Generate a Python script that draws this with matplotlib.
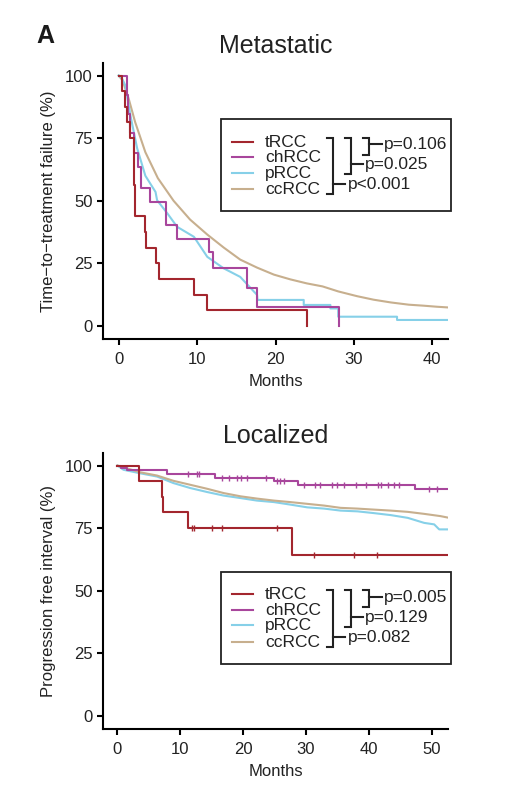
import matplotlib
matplotlib.use("Agg")
import matplotlib.pyplot as plt
from matplotlib.lines import Line2D
from matplotlib.patches import Rectangle
import numpy as np

plt.rcParams['font.family'] = ['Liberation Sans', 'DejaVu Sans']

W, H = 508, 794

# ---------------- data ----------------
groups = ["tRCC", "chRCC", "pRCC", "ccRCC"]
colors = {"tRCC": "#A3262E", "chRCC": "#A8469C", "pRCC": "#86D0E8", "ccRCC": "#C7AF8E"}

# Metastatic: time-to-treatment failure (months, %)
met_tRCC_t = [0, 0.45, 0.8, 1.1, 1.5, 1.9, 1.95, 2.0, 2.05, 2.1, 3.3, 3.5, 4.8, 5.1, 9.6, 11.3, 24.0]
met_tRCC_s = [100, 93.75, 87.5, 81.25, 75, 68.75, 62.5, 56.25, 50, 43.75, 37.5, 31.25, 25, 18.75, 12.5, 6.25, 0]

met_chRCC_t = [0, 1.07, 1.15, 1.5, 2.0, 2.5, 2.8, 4.04, 6.08, 7.45, 11.5, 12.0, 16.4, 17.7, 28.1]
met_chRCC_s = [100, 92.3, 84.6, 76.9, 69.2, 63.5, 55, 49.5, 40.2, 34.9, 29.6, 23, 15, 7.7, 0]

met_pRCC_t = [0, 0.4, 0.85, 1.5, 2.35, 3.4, 4.7, 4.9, 6.2, 7.45, 9.6, 11.3, 13.4, 15.5, 17.65,
              17.7, 23.6, 23.6, 27.0, 27.0, 28.0, 28.0, 35.5, 35.5, 42.0]
met_pRCC_s = [100, 99, 96, 84, 71, 60, 53.5, 50.2, 45, 39.6, 35.6, 27.6, 23, 19.6, 12.4,
              10.4, 10.4, 8.4, 8.4, 7.0, 7.0, 3.7, 3.7, 2.4, 2.4]

met_ccRCC_t = [0, 0.5, 1.28, 2.1, 3.4, 5.0, 7.0, 9.1, 11.3, 13.4, 15.5, 17.65, 19.8, 21.9, 24.0,
               26.0, 28.0, 30.4, 32.5, 34.7, 37.0, 38.9, 40.5, 42.0]
met_ccRCC_s = [100, 98, 90.7, 81.4, 69.4, 59, 50, 42.5, 36.5, 31.3, 26.5, 23.3, 20.5, 18.6, 17,
               15.8, 13.8, 11.9, 10.5, 9.4, 8.5, 8.1, 7.7, 7.4]

# Localized: progression free interval (months, %)
loc_tRCC_t = [0, 3.5, 7.1, 7.3, 11.2, 27.7, 52.6]
loc_tRCC_s = [100, 93.75, 87.5, 81.25, 75, 64.3, 64.3]
loc_tRCC_cens = [11.9, 12.2, 15.1, 16.7, 25.4, 31.2, 37.6, 41.3]

loc_chRCC_t = [0, 0.6, 1.5, 7.9, 15.6, 24.9, 28.8, 47.4, 52.6]
loc_chRCC_s = [100, 99.2, 98.4, 96.6, 95.2, 93.9, 92.4, 90.7, 90.7]
loc_chRCC_cens = [11.3, 12.7, 12.9, 16.7, 17.7, 19.0, 19.6, 20.6, 23.6, 25.4, 25.9, 26.5,
                  29.7, 31.5, 32.3, 34.2, 35.0, 36.0, 37.9, 39.5, 41.4, 41.9, 43.0, 44.0, 44.8,
                  49.6, 50.9]

loc_pRCC_t = [0, 0.96, 3.6, 6.3, 8.9, 11.6, 14.3, 16.9, 19.6, 22.2, 24.9, 27.5, 30.2, 32.9,
              35.5, 38.2, 40.8, 43.5, 46.2, 48.8, 50.4, 51.2, 52.6]
loc_pRCC_s = [100, 98.3, 96.9, 95.6, 93, 91, 89.4, 88, 87, 86, 85.4, 84.4, 83.3, 82.8,
              82, 81.7, 81, 80.2, 79.1, 77.1, 76.5, 74.5, 74.5]

loc_ccRCC_t = [0, 3.6, 6.3, 8.9, 11.6, 14.3, 16.9, 19.6, 22.2, 24.9, 27.5, 30.2, 32.9, 35.5,
               38.2, 40.8, 43.5, 46.2, 48.8, 51.4, 52.8]
loc_ccRCC_s = [100, 97.3, 96, 93.9, 92.3, 90.7, 89, 87.7, 86.8, 86, 85.4, 84.7, 84, 83.1,
               82.8, 82.4, 82, 81.5, 80.7, 79.8, 79.1]

met_pvals = ["p=0.106", "p=0.025", "p<0.001"]
loc_pvals = ["p=0.005", "p=0.129", "p=0.082"]

# ---------------- figure ----------------
fig = plt.figure(figsize=(W / 100, H / 100), dpi=100)


def fx(x):
    return x / W


def fy(y):
    return 1 - y / H


def setup(ax, xticks, xlim, ylabel, title):
    for s in ["top", "right"]:
        ax.spines[s].set_visible(False)
    for s in ["left", "bottom"]:
        ax.spines[s].set_linewidth(1.5)
        ax.spines[s].set_color("black")
    ax.set_xlim(*xlim)
    ax.set_ylim(-5, 105)
    ax.set_xticks(xticks)
    ax.set_yticks([0, 25, 50, 75, 100])
    ax.tick_params(axis="both", length=4.5, width=1.5, labelsize=12, colors="black",
                   labelcolor="#222222", pad=3)
    ax.tick_params(axis="x", pad=5)
    ax.set_xlabel("Months", fontsize=12, color="#222222", labelpad=5)
    ax.set_ylabel(ylabel, fontsize=12, color="#222222", labelpad=6)
    ax.set_title(title, fontsize=18, color="#222222", pad=7)


ax1 = fig.add_axes([fx(103), fy(338.5), fx(448 - 103), (338.5 - 63) / H])
ax2 = fig.add_axes([fx(103), fy(728.5), fx(448 - 103), (728.5 - 453) / H])

setup(ax1, [0, 10, 20, 30, 40], (-2, 42), "Time\u2212to\u2212treatment failure (%)", "Metastatic")
setup(ax2, [0, 10, 20, 30, 40, 50], (-2.3, 52.6), "Progression free interval (%)", "Localized")

lw = 1.5
# Metastatic curves
ax1.plot(met_ccRCC_t, met_ccRCC_s, color=colors["ccRCC"], lw=lw)
ax1.plot(met_pRCC_t, met_pRCC_s, color=colors["pRCC"], lw=lw)
ax1.plot(met_chRCC_t, met_chRCC_s, color=colors["chRCC"], lw=lw, drawstyle="steps-post")
ax1.plot(met_tRCC_t, met_tRCC_s, color=colors["tRCC"], lw=lw, drawstyle="steps-post")

# Localized curves
ax2.plot(loc_pRCC_t, loc_pRCC_s, color=colors["pRCC"], lw=lw)
ax2.plot(loc_ccRCC_t, loc_ccRCC_s, color=colors["ccRCC"], lw=lw)
ax2.plot(loc_chRCC_t, loc_chRCC_s, color=colors["chRCC"], lw=lw, drawstyle="steps-post")
ax2.plot(loc_tRCC_t, loc_tRCC_s, color=colors["tRCC"], lw=lw, drawstyle="steps-post")


def step_at(ts, ss, t):
    idx = np.searchsorted(ts, t, side="right") - 1
    return np.asarray(ss)[idx]


ax2.plot(loc_chRCC_cens, step_at(loc_chRCC_t, loc_chRCC_s, loc_chRCC_cens), ls="none",
         marker="|", ms=4, mew=1.0, color=colors["chRCC"])
ax2.plot(loc_tRCC_cens, step_at(loc_tRCC_t, loc_tRCC_s, loc_tRCC_cens), ls="none",
         marker="|", ms=4, mew=1.0, color=colors["tRCC"])


def legend_block(y0, pvals):
    # box
    fig.patches.append(Rectangle((fx(221), fy(y0 + 92)), fx(451 - 221), 92 / H,
                                 transform=fig.transFigure, fill=False, ec="#222222",
                                 lw=1.3, zorder=5))
    rows = [y0 + 22.4, y0 + 38, y0 + 53.4, y0 + 70]
    for g, ry in zip(groups, rows):
        fig.add_artist(Line2D([fx(231.7), fx(253.3)], [fy(ry), fy(ry)], color=colors[g], lw=1.5))
        fig.text(fx(265), fy(ry + 0.5), g, fontsize=12.5, color="#222222", va="center", ha="left")
    top = y0 + 18.4

    def bracket(xv, xh, bottom, stub_y, stub_end, label, tx):
        fig.add_artist(Line2D([fx(xh), fx(xv), fx(xv), fx(xh)],
                              [fy(top), fy(top), fy(bottom), fy(bottom)],
                              color="#222222", lw=1.5, solid_joinstyle="miter"))
        fig.add_artist(Line2D([fx(xv), fx(stub_end)], [fy(stub_y), fy(stub_y)],
                              color="#222222", lw=1.5))
        fig.text(fx(tx), fy(stub_y + 0.5), label, fontsize=12.5, color="#222222",
                 va="center", ha="left")

    bracket(369.3, 362.7, y0 + 35.7, y0 + 25, 381.7, pvals[0], 384)
    bracket(351, 345, y0 + 55, y0 + 45, 363.3, pvals[1], 365)
    bracket(332.7, 326.7, y0 + 75, y0 + 65, 345, pvals[2], 348.3)


legend_block(119.3, met_pvals)
legend_block(571.7, loc_pvals)

fig.text(fx(36), fy(42.7), "A", fontsize=18, fontweight="heavy", color="#1a1a1a",
         va="baseline", ha="left")

fig.savefig("out.png", dpi=100)
